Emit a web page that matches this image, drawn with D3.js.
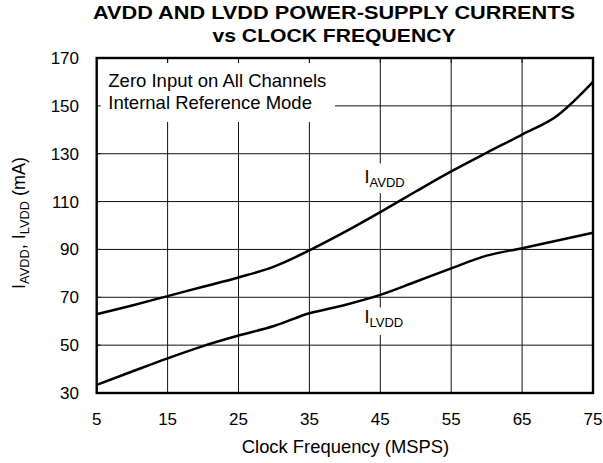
<!DOCTYPE html>
<html><head><meta charset="utf-8">
<script src="https://cdn.jsdelivr.net/npm/d3@7"></script>
<style>html,body{margin:0;padding:0;background:#fff;}svg{display:block;font-family:"Liberation Sans",Arial,Helvetica,sans-serif;}</style>
</head><body>
<svg id="c" width="603" height="463"></svg>
<script>
const freq = [5,10,15,20,25,30,35,40,45,50,55,60,65,70,75];
const iAVDD = [62.9,66.6,70.5,74.4,78.3,82.8,89.6,97.3,105.6,114.2,122.6,130.4,138.0,146.0,160.0];
const iLVDD = [33.4,39.0,44.5,49.6,54.0,58.0,63.3,66.8,71.0,76.5,82.1,87.4,90.5,93.7,97.0];
const xTicks = [5,15,25,35,45,55,65,75];
const yTicks = [30,50,70,90,110,130,150,170];
const titleLines = ["AVDD AND LVDD POWER-SUPPLY CURRENTS","vs CLOCK FREQUENCY"];
const noteLines = ["Zero Input on All Channels","Internal Reference Mode"];

const svg = d3.select("#c");
const L=96.7,R=593,T=58,B=393;
const x = d3.scaleLinear().domain([5,75]).range([L,R]);
const y = d3.scaleLinear().domain([30,170]).range([B,T]);

// grid
const g = svg.append("g");
g.selectAll("line.v").data(xTicks.slice(1,-1)).enter().append("line")
  .attr("x1",d=>x(d)).attr("x2",d=>x(d)).attr("y1",T).attr("y2",B)
  .attr("stroke","#111").attr("stroke-width",1);
g.selectAll("line.h").data(yTicks.slice(1,-1)).enter().append("line")
  .attr("y1",d=>y(d)).attr("y2",d=>y(d)).attr("x1",L).attr("x2",R)
  .attr("stroke","#111").attr("stroke-width",1);

// label masks
svg.append("rect").attr("x",L).attr("y",63).attr("width",335-L).attr("height",59).attr("fill","#fff");
svg.append("rect").attr("x",362).attr("y",163.5).attr("width",46).attr("height",29.5).attr("fill","#fff");
svg.append("rect").attr("x",362).attr("y",307.5).attr("width",46).attr("height",27.5).attr("fill","#fff");

// inner ticks
svg.selectAll("line.tt").data(xTicks.slice(1,-1)).enter().append("line")
  .attr("x1",d=>x(d)).attr("x2",d=>x(d)).attr("y1",T).attr("y2",T+5).attr("stroke","#111");
svg.selectAll("line.tl").data(yTicks.slice(1,-1)).enter().append("line")
  .attr("y1",d=>y(d)).attr("y2",d=>y(d)).attr("x1",L).attr("x2",L+4).attr("stroke","#111");

// curves
const line = d3.line().x((d,i)=>x(freq[i])).y(d=>y(d)).curve(d3.curveMonotoneX);
[iAVDD,iLVDD].forEach(s=>{
  svg.append("path").attr("d",line(s)).attr("fill","none").attr("stroke","#000").attr("stroke-width",2.5);
});

// frame
svg.append("rect").attr("x",L).attr("y",T).attr("width",R-L).attr("height",B-T)
  .attr("fill","none").attr("stroke","#000").attr("stroke-width",2.4);

// axes labels
svg.selectAll("text.xt").data(xTicks).enter().append("text")
  .attr("x",d=>x(d)).attr("y",425).attr("text-anchor","middle")
  .attr("font-size",17).text(d=>d);
svg.selectAll("text.yt").data(yTicks).enter().append("text")
  .attr("x",79).attr("y",d=>y(d)+6).attr("text-anchor","end")
  .attr("font-size",17).text(d=>d);

svg.append("text").attr("x",345.5).attr("y",453).attr("text-anchor","middle")
  .attr("font-size",18.4).text("Clock Frequency (MSPS)");

const yl = svg.append("text").attr("transform","translate(25,223) rotate(-90)")
  .attr("text-anchor","middle").attr("font-size",18);
yl.append("tspan").text("I");
yl.append("tspan").attr("font-size",12.8).attr("dy",4).text("AVDD");
yl.append("tspan").attr("dy",-4).text(", I");
yl.append("tspan").attr("font-size",12.8).attr("dy",4).text("LVDD");
yl.append("tspan").attr("dy",-4).text(" (mA)");

// title
svg.selectAll("text.title").data(titleLines).enter().append("text")
  .attr("x",334).attr("y",(d,i)=>19+i*22.7).attr("text-anchor","middle")
  .attr("font-weight","bold").attr("font-size",17.5)
  .attr("textLength",(d,i)=>i?243:482).attr("lengthAdjust","spacingAndGlyphs")
  .text(d=>d);

// note
svg.selectAll("text.note").data(noteLines).enter().append("text")
  .attr("x",108.3).attr("y",(d,i)=>86.5+i*22).attr("font-size",18.5).text(d=>d);

// series labels
function sLabel(xp,yp,sub){
  const t=svg.append("text").attr("x",xp).attr("y",yp).attr("font-size",18);
  t.append("tspan").text("I");
  t.append("tspan").attr("font-size",13).attr("dy",3.5).text(sub);
}
sLabel(364.5,183.3,"AVDD");
sLabel(364.5,323.3,"LVDD");
</script>
</body></html>
